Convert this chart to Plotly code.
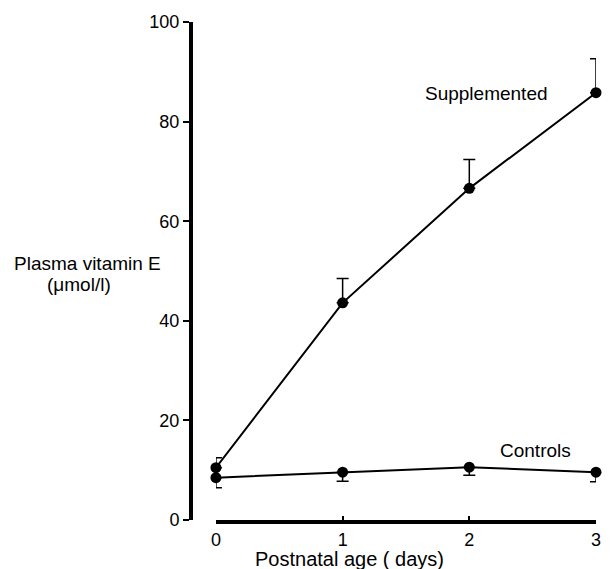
import plotly.graph_objects as go

days = [0, 1, 2, 3]
supplemented = [10.5, 43.6, 66.6, 85.8]
supp_err_up = [2.0, 4.9, 5.8, 6.8]
controls = [8.5, 9.6, 10.6, 9.6]
ctrl_err_down = [2.0, 1.8, 1.6, 1.9]

y_ticks = [0, 20, 40, 60, 80, 100]
x_ticks = [0, 1, 2, 3]

FONT = "Liberation Sans"
W, H = 613, 569
ml, mr, mt, mb = 191, 16, 20, 49
pw = W - ml - mr
ph = H - mt - mb

fig = go.Figure()
fig.add_trace(go.Scatter(
    x=days, y=supplemented, mode="lines+markers",
    line=dict(color="black", width=2),
    marker=dict(color="black", size=11),
    error_y=dict(type="data", symmetric=False, array=supp_err_up,
                 arrayminus=[0]*4, color="black", thickness=1.5, width=6),
    cliponaxis=False, showlegend=False))
fig.add_trace(go.Scatter(
    x=days, y=controls, mode="lines+markers",
    line=dict(color="black", width=2),
    marker=dict(color="black", size=11),
    error_y=dict(type="data", symmetric=False, array=[0]*4,
                 arrayminus=ctrl_err_down, color="black", thickness=1.5, width=6),
    cliponaxis=False, showlegend=False))


def ann(px, py, text, size=19):
    return dict(x=(px - ml) / pw, y=(H - mb - py) / ph, xref="paper", yref="paper",
                xanchor="center", yanchor="middle", text=text, showarrow=False,
                font=dict(size=size))


fig.update_layout(
    width=W, height=H,
    margin=dict(l=ml, r=mr, t=mt, b=mb),
    paper_bgcolor="white", plot_bgcolor="white",
    font=dict(family=FONT, color="black", size=16),
    xaxis=dict(domain=[25/pw, 1], range=[0, 3], tickvals=x_ticks,
               showline=True, linecolor="black", linewidth=4,
               ticks="inside", ticklen=4, tickwidth=2, tickcolor="black",
               showgrid=False, zeroline=False, tickfont=dict(size=18)),
    yaxis=dict(anchor="free", position=0, range=[0, 100], tickvals=y_ticks,
               showline=True, linecolor="black", linewidth=4,
               ticks="outside", ticklen=6, tickwidth=2, tickcolor="black",
               showgrid=False, zeroline=False, tickfont=dict(size=18)),
    annotations=[
        ann(487, 92, "Supplemented"),
        ann(536, 450, "Controls"),
        ann(87, 262, "Plasma vitamin E"),
        ann(79, 284, "(μmol/l)"),
        ann(350, 559, "Postnatal age ( days)", 20),
    ],
)

fig.write_html("out.html")
